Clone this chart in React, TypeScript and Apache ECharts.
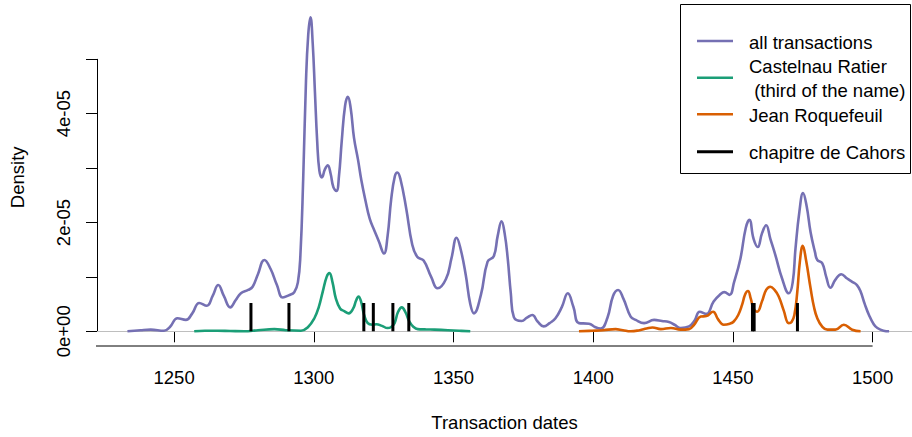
import React, { useEffect, useRef } from "react";
import * as echarts from "echarts";

// Density values are in units of 1e-05
const allTransactions: [number, number][] = [
  [1233.3, 0], [1238, 0.02], [1241.6, 0.03], [1246.4, 0.01], [1248.5, 0.08], [1251.2, 0.24],
  [1254.2, 0.21], [1256.5, 0.33], [1259.0, 0.52], [1261.7, 0.47], [1263.8, 0.65], [1265.8, 0.85],
  [1267.8, 0.65], [1270.1, 0.44], [1272.0, 0.57], [1273.9, 0.7], [1276.5, 0.76], [1278.1, 0.82],
  [1280.0, 1.05], [1282.3, 1.31], [1284.5, 1.15], [1286.8, 0.85], [1288.9, 0.62], [1291.0, 0.66],
  [1293.0, 0.72], [1294.3, 0.9], [1295.2, 1.4], [1296.2, 2.8], [1297.2, 4.6], [1298.0, 5.45],
  [1298.8, 5.77], [1299.6, 5.3], [1300.4, 4.4], [1301.2, 3.5], [1302.0, 2.95], [1302.9, 2.83],
  [1304.0, 2.98], [1305.0, 3.05], [1306.0, 2.9], [1307.0, 2.65], [1308.1, 2.58], [1309.0, 2.85],
  [1310.0, 3.5], [1311.2, 4.15], [1312.2, 4.31], [1313.2, 4.1], [1314.4, 3.55], [1315.8, 3.16],
  [1317.0, 2.78], [1318.5, 2.4], [1320.0, 2.07], [1321.7, 1.85], [1323.3, 1.65], [1325.1, 1.43],
  [1326.4, 1.75], [1327.7, 2.43], [1329.0, 2.85], [1329.9, 2.92], [1331.0, 2.8], [1333.1, 2.25],
  [1335.2, 1.6], [1337.0, 1.37], [1339.3, 1.3], [1342.0, 1.0], [1344.3, 0.79], [1347.3, 0.96],
  [1349.3, 1.35], [1351.1, 1.72], [1352.6, 1.5], [1354.4, 1.03], [1356.0, 0.5], [1357.3, 0.33],
  [1359.8, 0.67], [1362.2, 1.28], [1364.4, 1.38], [1365.8, 1.75], [1367.2, 2.02], [1368.3, 1.8],
  [1369.4, 1.34], [1370.5, 0.7], [1371.6, 0.26], [1374.4, 0.19], [1376.3, 0.25], [1378.2, 0.3],
  [1380.1, 0.18], [1382.3, 0.09], [1384.4, 0.15], [1386.5, 0.24], [1388.8, 0.45], [1390.9, 0.7],
  [1392.9, 0.45], [1394.9, 0.15], [1398.5, 0.14], [1400.6, 0.08], [1402.7, 0.05], [1405.1, 0.25],
  [1407.1, 0.65], [1408.9, 0.76], [1410.8, 0.6], [1413.4, 0.27], [1415.2, 0.21], [1418.2, 0.15],
  [1421.8, 0.21], [1424.6, 0.19], [1427.1, 0.17], [1429.1, 0.12], [1431.3, 0.06], [1434.3, 0.09],
  [1436.3, 0.2], [1438.1, 0.36], [1440.5, 0.32], [1443.1, 0.55], [1445.5, 0.68], [1446.9, 0.72],
  [1448.8, 0.67], [1450.4, 0.9], [1452.7, 1.34], [1454.6, 1.9], [1455.9, 2.05], [1457.4, 1.7],
  [1458.9, 1.55], [1460.4, 1.8], [1461.9, 1.95], [1463.4, 1.7], [1465.2, 1.4], [1467.6, 0.97],
  [1470.0, 0.7], [1471.4, 0.9], [1472.4, 1.52], [1473.8, 2.2], [1475.1, 2.54], [1476.4, 2.3],
  [1477.8, 1.82], [1479.4, 1.45], [1480.2, 1.31], [1482.0, 1.25], [1483.4, 1.0], [1484.9, 0.8],
  [1486.7, 0.95], [1488.8, 1.05], [1490.9, 0.97], [1492.7, 0.91], [1494.4, 0.85], [1495.7, 0.73],
  [1497.2, 0.5], [1498.7, 0.3], [1500.4, 0.13], [1501.7, 0.06], [1503.9, 0.01], [1505.9, 0],
];

const castelnauRatier: [number, number][] = [
  [1257.2, 0], [1261, 0.01], [1265.6, 0.01], [1270, 0.005], [1275.1, 0], [1280, 0.02],
  [1285.9, 0.04], [1290, 0.02], [1295.4, 0.01], [1297.8, 0.07], [1300.2, 0.24], [1301.8, 0.45],
  [1303.2, 0.73], [1304.6, 1.0], [1305.6, 1.07], [1306.7, 0.9], [1307.9, 0.6], [1309.4, 0.42],
  [1310.9, 0.37], [1312.5, 0.33], [1314.1, 0.42], [1315.1, 0.56], [1316.0, 0.64], [1316.9, 0.55],
  [1318.0, 0.3], [1319.3, 0.15], [1320.9, 0.12], [1322.4, 0.13], [1324.4, 0.1], [1326.4, 0.06],
  [1327.7, 0.08], [1328.9, 0.15], [1330.1, 0.35], [1331.5, 0.44], [1332.8, 0.35], [1334.2, 0.18],
  [1335.7, 0.08], [1337.2, 0.04], [1340, 0.035], [1343.2, 0.03], [1348, 0.02], [1352, 0.01],
  [1356.0, 0],
];

const jeanRoquefeuil: [number, number][] = [
  [1394.9, 0], [1399.6, 0.01], [1403.6, 0.02], [1408.0, 0.04], [1410.6, 0.02], [1413.4, 0],
  [1416.6, 0.02], [1419.1, 0.05], [1421.2, 0.07], [1424.2, 0.04], [1427.8, 0.06], [1431.3, 0.03],
  [1434.3, 0.04], [1436.1, 0.12], [1438.5, 0.27], [1440.5, 0.28], [1442.9, 0.36], [1444.7, 0.22],
  [1446.7, 0.12], [1448.9, 0.14], [1450.3, 0.18], [1451.9, 0.3], [1453.3, 0.49], [1454.4, 0.68],
  [1455.4, 0.74], [1456.4, 0.6], [1457.4, 0.42], [1458.7, 0.36], [1460.4, 0.55], [1461.9, 0.76],
  [1463.4, 0.82], [1464.9, 0.76], [1466.4, 0.64], [1468.2, 0.38], [1470.0, 0.15], [1471.0, 0.17],
  [1472.0, 0.3], [1473.0, 0.7], [1474.0, 1.3], [1475.0, 1.57], [1476.2, 1.3], [1477.8, 0.79],
  [1479.0, 0.45], [1480.2, 0.24], [1481.9, 0.09], [1483.8, 0.03], [1486.7, 0.03], [1489.7, 0.12],
  [1492.7, 0.03], [1495.7, 0],
];

// chapitre de Cahors: transaction dates and marker height (1e-05 units)
const chapitreDates: number[] = [1277.5, 1291.1, 1317.9, 1321.3, 1328.3, 1334.0, 1457.0, 1457.6, 1473.1];
const chapitreHeight = 0.52;

const dateTicks: number[] = [1250, 1300, 1350, 1400, 1450, 1500];
const densityTicks: number[] = [0, 1, 2, 3, 4, 5];
const densityLabelTicks: number[] = [0, 2, 4];

const legendNames: string[] = [
  "all transactions",
  "Castelnau Ratier",
  " (third of the name)",
  "Jean Roquefeuil",
  "chapitre de Cahors",
];

const PURPLE = "#7570B3";
const GREEN = "#1B9E77";
const ORANGE = "#D95F02";
const FONT = "Liberation Sans, Arial, Helvetica, sans-serif";
const FS = 18.5;

export default function App() {
  const ref = useRef<HTMLDivElement>(null);
  useEffect(() => {
    if (!ref.current) return;
    const chart = echarts.init(ref.current, null, { renderer: "svg" });
    const lineSeries = (name: string, data: [number, number][], color: string, extra: any = {}) => ({
      name,
      type: "line",
      data,
      smooth: 0.45,
      symbol: "none",
      clip: false,
      lineStyle: { color, width: 2.6 },
      itemStyle: { color },
      z: 3,
      ...extra,
    });
    chart.setOption({
      animation: false,
      backgroundColor: "#ffffff",
      textStyle: { fontFamily: FONT },
      grid: { left: 96, right: 0, top: 59.3, bottom: 103.7, containLabel: false },
      xAxis: {
        type: "value",
        min: 1222.4,
        max: 1514.1,
        offset: 12.7,
        axisLine: { show: false },
        splitLine: { show: false },
        axisTick: { show: true, length: 11, customValues: dateTicks, lineStyle: { color: "#000" } },
        axisLabel: {
          customValues: dateTicks,
          margin: 24,
          color: "#000",
          fontSize: FS,
          fontFamily: FONT,
          formatter: (v: number) => String(v),
        },
        name: "Transaction dates",
        nameLocation: "middle",
        nameGap: 69,
        nameTextStyle: { color: "#000", fontSize: FS, fontFamily: FONT },
      },
      yAxis: {
        type: "value",
        min: 0,
        max: 5,
        interval: 1,
        axisLine: { show: true, lineStyle: { color: "#000", width: 1 } },
        splitLine: { show: false },
        axisTick: { show: true, length: 11, customValues: densityTicks, lineStyle: { color: "#000" } },
        axisLabel: {
          customValues: densityLabelTicks,
          rotate: 90,
          margin: 24,
          color: "#000",
          fontSize: FS,
          fontFamily: FONT,
          formatter: (v: number) => (v === 0 ? "0e+00" : `${v}e-05`),
        },
        name: "Density",
        nameLocation: "middle",
        nameRotate: 90,
        nameGap: 70,
        nameTextStyle: { color: "#000", fontSize: FS, fontFamily: FONT, padding: [0, 0, 0, 36] },
      },
      series: [
        lineSeries("all transactions", allTransactions, PURPLE, {
          markLine: {
            silent: true,
            symbol: "none",
            label: { show: false },
            lineStyle: { color: "#BEBEBE", width: 1, type: "solid" },
            data: [{ yAxis: 0 }],
            z: 1,
          },
        }),
        lineSeries("Castelnau Ratier", castelnauRatier, GREEN),
        lineSeries("Jean Roquefeuil", jeanRoquefeuil, ORANGE),
        {
          name: "chapitre de Cahors",
          type: "custom",
          data: chapitreDates.map((d) => [d, chapitreHeight]),
          z: 4,
          renderItem: (params: any, api: any) => {
            const p0 = api.coord([api.value(0), 0]);
            const p1 = api.coord([api.value(0), api.value(1)]);
            return {
              type: "line",
              shape: { x1: p0[0], y1: p0[1], x2: p1[0], y2: p1[1] },
              style: { stroke: "#000", lineWidth: 3 },
            };
          },
        },
      ],
      graphic: [
        { type: "line", z: 5, shape: { x1: 96, y1: 346, x2: 872.6, y2: 346 }, style: { stroke: "#000", lineWidth: 1 } },
        {
          type: "group",
          z: 10,
          children: [
            { type: "rect", shape: { x: 680.5, y: 4.5, width: 230, height: 169 }, style: { fill: "#fff", stroke: "#000", lineWidth: 1 } },
            { type: "line", shape: { x1: 697, y1: 41, x2: 733, y2: 41 }, style: { stroke: PURPLE, lineWidth: 2.6 } },
            { type: "line", shape: { x1: 697, y1: 77.7, x2: 733, y2: 77.7 }, style: { stroke: GREEN, lineWidth: 2.6 } },
            { type: "line", shape: { x1: 697, y1: 114.3, x2: 733, y2: 114.3 }, style: { stroke: ORANGE, lineWidth: 2.6 } },
            { type: "line", shape: { x1: 697, y1: 151.7, x2: 733, y2: 151.7 }, style: { stroke: "#000", lineWidth: 3 } },
            { type: "text", x: 749, y: 42, style: { text: legendNames[0], fontSize: FS, fontFamily: FONT, fill: "#000", verticalAlign: "middle" } },
            { type: "text", x: 749, y: 66.5, style: { text: legendNames[1], fontSize: FS, fontFamily: FONT, fill: "#000", verticalAlign: "middle" } },
            { type: "text", x: 749, y: 90, style: { text: legendNames[2], fontSize: FS, fontFamily: FONT, fill: "#000", verticalAlign: "middle" } },
            { type: "text", x: 749, y: 115, style: { text: legendNames[3], fontSize: FS, fontFamily: FONT, fill: "#000", verticalAlign: "middle" } },
            { type: "text", x: 749, y: 152.5, style: { text: legendNames[4], fontSize: FS, fontFamily: FONT, fill: "#000", verticalAlign: "middle" } },
          ],
        },
      ],
    });
    return () => chart.dispose();
  }, []);
  return (
    <div
      ref={ref}
      style={{ position: "fixed", left: 0, top: 0, width: 912, height: 437, background: "#fff" }}
    />
  );
}
